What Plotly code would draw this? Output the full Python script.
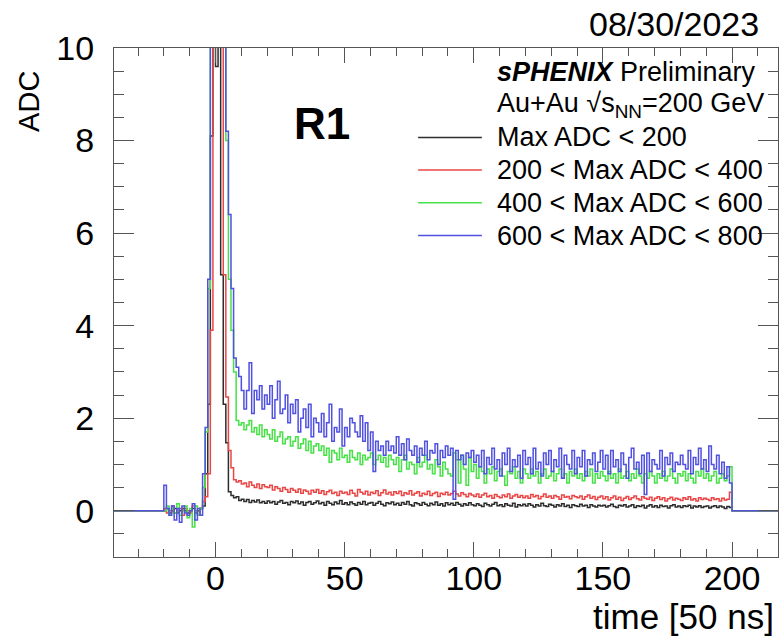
import plotly.graph_objects as go

# bins of 1 time unit, left edges -20 ... 199
t_start = -20

adc_lt200 = [
    0.0, 0.05, -0.05, 0.0, 0.05, -0.05, 0.0, 0.05, 0.0, -0.05,
    0.0, 0.05, -0.05, 0.0, 0.05, 0.1, 0.8, 2.3, 8.1, 14,
    9.6, 12, 5.1, 2.3, 1.47, 0.41, 0.33, 0.28, 0.3, 0.22,
    0.25, 0.2, 0.24, 0.18, 0.22, 0.19, 0.23, 0.17, 0.2, 0.16,
    0.21, 0.17, 0.2, 0.14, 0.19, 0.22, 0.16, 0.18, 0.13, 0.2,
    0.17, 0.21, 0.15, 0.19, 0.12, 0.18, 0.2, 0.14, 0.17, 0.21,
    0.15, 0.18, 0.12, 0.2, 0.16, 0.13, 0.19, 0.15, 0.22, 0.14,
    0.17, 0.13, 0.19, 0.15, 0.12, 0.18, 0.14, 0.2, 0.13, 0.16,
    0.18, 0.12, 0.16, 0.2, 0.14, 0.11, 0.17, 0.15, 0.19, 0.13,
    0.16, 0.12, 0.18, 0.14, 0.2, 0.13, 0.1, 0.17, 0.15, 0.12,
    0.18, 0.14, 0.11, 0.16, 0.13, 0.19, 0.12, 0.15, 0.1, 0.17,
    0.13, 0.16, 0.12, 0.18, 0.14, 0.1, 0.15, 0.12, 0.17, 0.13,
    0.11, 0.15, 0.12, 0.09, 0.16, 0.13, 0.1, 0.14, 0.18, 0.11,
    0.13, 0.09, 0.15, 0.12, 0.1, 0.16, 0.08, 0.13, 0.11, 0.14,
    0.1, 0.15, 0.12, 0.08, 0.13, 0.1, 0.16, 0.11, 0.09, 0.14,
    0.12, 0.08, 0.13, 0.1, 0.15, 0.09, 0.12, 0.07, 0.13, 0.11,
    0.09, 0.14, 0.1, 0.12, 0.07, 0.13, 0.1, 0.08, 0.12, 0.1,
    0.12, 0.08, 0.11, 0.14, 0.09, 0.07, 0.12, 0.1, 0.13, 0.08,
    0.1, 0.13, 0.07, 0.11, 0.09, 0.12, 0.06, 0.1, 0.13, 0.08,
    0.11, 0.07, 0.12, 0.09, 0.1, 0.06, 0.11, 0.13, 0.08, 0.1,
    0.07, 0.11, 0.09, 0.12, 0.06, 0.1, 0.08, 0.11, 0.07, 0.09,
    0.1, 0.06, 0.09, 0.11, 0.07, 0.1, 0.08, 0.05, 0.09, 0.07,
]

adc_200_400 = [
    0.05, -0.05, 0.0, 0.1, -0.05, 0.0, 0.05, -0.1, 0.05, 0.0,
    -0.05, 0.1, 0.0, -0.1, 0.05, 0.2, 0.3, 0.8, 3.9, 16,
    22, 18, 12, 5.1, 2.46, 1.3, 0.93, 0.67, 0.62, 0.65,
    0.58, 0.6, 0.52, 0.62, 0.55, 0.5, 0.58, 0.48, 0.56, 0.52,
    0.5, 0.55, 0.45, 0.52, 0.48, 0.42, 0.5, 0.46, 0.4, 0.48,
    0.44, 0.4, 0.47, 0.38, 0.45, 0.42, 0.36, 0.44, 0.4, 0.46,
    0.38, 0.43, 0.35, 0.41, 0.44, 0.37, 0.4, 0.33, 0.42, 0.38,
    0.4, 0.35, 0.44, 0.38, 0.32, 0.46, 0.4, 0.36, 0.42, 0.34,
    0.4, 0.37, 0.43, 0.33, 0.39, 0.45, 0.36, 0.4, 0.34, 0.41,
    0.37, 0.42, 0.33, 0.39, 0.36, 0.43, 0.34, 0.38, 0.41, 0.32,
    0.38, 0.35, 0.42, 0.33, 0.37, 0.4, 0.31, 0.38, 0.35, 0.4,
    0.34, 0.37, 0.42, 0.36, 0.32, 0.39, 0.35, 0.3, 0.37, 0.34,
    0.31, 0.36, 0.29, 0.34, 0.38, 0.3, 0.33, 0.27, 0.35, 0.31,
    0.28, 0.34, 0.3, 0.36, 0.27, 0.32, 0.35, 0.29, 0.33, 0.28,
    0.32, 0.27, 0.35, 0.3, 0.33, 0.26, 0.31, 0.36, 0.29, 0.32,
    0.27, 0.33, 0.3, 0.25, 0.34, 0.29, 0.31, 0.26, 0.33, 0.3,
    0.28, 0.32, 0.25, 0.3, 0.34, 0.27, 0.31, 0.24, 0.29, 0.32,
    0.26, 0.3, 0.23, 0.28, 0.32, 0.25, 0.29, 0.22, 0.27, 0.31,
    0.24, 0.28, 0.32, 0.26, 0.23, 0.3, 0.27, 0.25, 0.29, 0.22,
    0.27, 0.3, 0.24, 0.28, 0.21, 0.26, 0.29, 0.23, 0.27, 0.25,
    0.22, 0.28, 0.25, 0.3, 0.23, 0.26, 0.21, 0.28, 0.24, 0.27,
    0.25, 0.22, 0.28, 0.24, 0.26, 0.21, 0.27, 0.23, 0.25, 0.4,
]

adc_400_600 = [
    0.0, 0.1, -0.1, 0.05, -0.05, 0.15, -0.1, 0.0, 0.1, -0.15,
    0.05, -0.35, 0.1, -0.1, 0.05, 0.5, 1.7, 4.8, 13, 20,
    24, 20, 16, 11, 8.0, 5.0, 3.9, 3.0, 1.95, 1.85,
    1.9, 1.75, 1.85, 1.95, 1.7, 1.8, 1.65, 1.85, 1.6, 1.75,
    1.65, 1.55, 1.75, 1.5, 1.6, 1.7, 1.45, 1.55, 1.6, 1.4,
    1.5, 1.6, 1.35, 1.45, 1.55, 1.3, 1.5, 1.25, 1.4, 1.45,
    1.3, 1.4, 1.2, 1.35, 1.05, 1.3, 1.25, 1.1, 1.35, 1.15,
    1.2, 1.05, 1.3, 1.15, 1.1, 1.25, 1.0, 1.2, 1.1, 1.15,
    1.25, 1.0, 1.1, 1.2, 1.05, 1.15, 0.95, 1.2, 1.1, 1.0,
    1.15, 0.85, 1.1, 1.2, 0.9, 1.05, 1.0, 0.8, 1.15, 0.95,
    1.05, 1.2, 0.9, 1.0, 0.8, 1.1, 0.95, 0.75, 1.05, 0.9,
    0.8, 0.75, 1.25, 1.1, 0.6, 1.2, 0.9, 0.55, 1.15, 0.85,
    1.0, 0.7, 0.95, 0.85, 0.6, 0.9, 0.8, 0.95, 0.65, 0.85,
    0.9, 0.75, 0.55, 0.85, 0.8, 0.95, 0.7, 0.85, 0.6, 0.9,
    0.8, 0.7, 0.9, 0.75, 0.85, 0.6, 0.8, 0.9, 0.7, 0.75,
    0.85, 0.65, 0.8, 0.9, 0.7, 0.8, 0.6, 0.85, 0.75, 0.9,
    0.7, 0.8, 0.65, 0.85, 0.75, 0.9, 0.6, 0.8, 0.7, 0.85,
    0.75, 0.65, 0.85, 0.7, 0.8, 0.6, 0.9, 0.7, 0.75, 0.85,
    0.65, 0.8, 0.7, 0.9, 0.75, 0.6, 0.8, 0.7, 0.85, 0.75,
    0.6, 0.8, 0.7, 0.85, 0.65, 0.75, 0.9, 0.7, 0.6, 0.8,
    0.75, 0.85, 0.65, 0.8, 0.7, 0.6, 0.85, 0.75, 0.9, 0.7,
    0.8, 0.65, 0.75, 0.85, 0.6, 0.7, 0.8, 0.65, 0.75, 0.95,
]

adc_600_800 = [
    0.55, 0.05, -0.1, 0.1, -0.2, 0.05, -0.25, 0.1, -0.05, -0.1,
    0.0, 0.15, -0.2, 0.05, -0.1, 0.8, 1.8, 5.0, 14, 22,
    25, 22, 17, 12, 8.2, 6.4, 4.8, 3.3, 3.1, 2.9,
    2.6, 2.2, 2.6, 3.2, 2.1, 2.6, 2.4, 2.7, 2.2, 2.5,
    2.3, 2.7, 2.0, 2.4, 2.8, 2.1, 2.2, 2.5, 1.9, 2.3,
    2.1, 2.4, 1.7, 2.0, 2.2, 1.8, 2.3, 1.6, 2.0, 1.9,
    1.7, 2.1, 1.6, 1.9, 2.3, 1.5, 1.8, 1.7, 2.2, 1.4,
    1.8, 1.6, 2.0, 1.9, 1.7, 1.6, 2.05, 1.5, 1.9, 1.3,
    1.7, 0.85, 1.5, 1.3, 1.4, 1.2, 1.5, 1.3, 1.4, 1.25,
    1.6, 1.2, 1.45, 1.1, 1.55, 1.3, 1.2, 1.4, 1.05, 1.35,
    1.2, 1.5, 1.1, 1.3, 1.25, 1.45, 1.0, 1.3, 1.15, 1.4,
    1.2, 1.35, 0.25, 1.3, 1.1, 1.2, 1.0, 1.25, 1.15, 1.3,
    1.05, 1.2, 0.95, 1.3, 0.8, 1.15, 1.0, 1.35, 0.9, 1.1,
    0.75, 1.25, 1.0, 1.35, 0.85, 1.1, 0.95, 1.2, 0.7, 1.3,
    1.0, 1.15, 0.8, 1.35, 0.9, 1.05, 0.75, 1.25, 1.0, 1.3,
    0.85, 1.1, 0.95, 1.35, 0.7, 1.2, 1.0, 0.9, 1.3, 0.8,
    1.15, 0.95, 1.3, 0.75, 1.1, 1.0, 1.25, 0.85, 1.05, 1.3,
    0.9, 1.2, 0.8, 1.3, 0.95, 1.1, 0.85, 1.25, 1.0, 0.7,
    1.15, 1.35, 0.9, 1.05, 0.8, 1.2, 0.35, 1.25, 0.85, 1.1,
    1.0, 0.9, 1.3, 0.75, 1.15, 1.0, 1.25, 0.85, 1.05, 1.0,
    1.2, 1.0, 0.9, 1.3, 0.8, 1.15, 1.0, 1.35, 0.9, 1.1,
    0.85, 1.4, 1.0, 0.9, 1.2, 0.8, 1.05, 0.7, 0.95, 0.6,
]

series_names = ["Max ADC < 200", "200 < Max ADC < 400",
                "400 < Max ADC < 600", "600 < Max ADC < 800"]
series_colors = ["rgb(45,45,45)", "rgb(235,70,70)",
                 "rgb(70,225,70)", "rgb(80,80,225)"]
all_series = [adc_lt200, adc_200_400, adc_400_600, adc_600_800]
legend_headers = ["<b><i>sPHENIX</i></b> Preliminary",
                  "Au+Au \u221As<sub>NN</sub>=200 GeV"]

x_lo, x_hi = -39.3, 217.8
font_main = "Liberation Sans"


def step_xy(vals):
    # histogram drawn ROOT style: empty bins out to the axis edges
    n = len(vals)
    xs = [x_lo] + [t_start + i for i in range(n)] + [t_start + n, x_hi]
    ys = [0] + list(vals) + [0, 0]
    return xs, ys


fig = go.Figure()

for vals, name, col in zip(all_series, series_names, series_colors):
    xs, ys = step_xy(vals)
    fig.add_trace(go.Scatter(x=xs, y=ys, mode="lines", name=name, showlegend=False,
                             line=dict(color=col, width=1.5, shape="hv")))

# ROOT-like legend box: text rows + short line samples (paper coords)
row_top, row_step = 0.953, 0.0643
legend_rows = legend_headers + series_names
for i, txt in enumerate(legend_rows):
    yy = row_top - i * row_step
    fig.add_annotation(text=txt, xref="paper", yref="paper", x=0.574, y=yy,
                       xanchor="left", yanchor="middle", showarrow=False,
                       font=dict(family=font_main, size=27, color="black"))
    if i >= len(legend_headers):
        col = series_colors[i - len(legend_headers)]
        fig.add_shape(type="line", xref="paper", yref="paper",
                      x0=0.458, x1=0.554, y0=yy, y1=yy,
                      line=dict(color=col, width=1.5))

axis_common = dict(showline=True, linecolor="#555", linewidth=1.2, mirror="allticks",
                   ticks="inside", tickcolor="#555", showgrid=False, zeroline=False,
                   automargin=False,
                   tickfont=dict(family=font_main, size=34, color="black"))

fig.update_xaxes(range=[x_lo, x_hi], tickvals=[0, 50, 100, 150, 200], ticklen=15,
                 ticklabelstandoff=-9,
                 minor=dict(ticks="inside", dtick=10, tick0=0, ticklen=8, tickcolor="#555"),
                 **axis_common)
fig.update_yaxes(range=[-1, 10], tickvals=[0, 2, 4, 6, 8, 10], ticklen=20,
                 ticklabelstandoff=12,
                 minor=dict(ticks="inside", dtick=0.5, tick0=0, ticklen=10, tickcolor="#555"),
                 **axis_common)

fig.add_annotation(text="time [50 ns]", xref="paper", yref="paper", x=0.997, y=-0.116,
                   xanchor="right", yanchor="middle", showarrow=False,
                   font=dict(family=font_main, size=35, color="black"))
fig.add_annotation(text="ADC", xref="paper", yref="paper", x=-0.128, y=0.958,
                   xanchor="center", yanchor="top", textangle=-90, showarrow=False,
                   font=dict(family=font_main, size=29, color="black"))
fig.add_annotation(text="08/30/2023", xref="paper", yref="paper", x=0.975, y=1.047,
                   xanchor="right", yanchor="middle", showarrow=False,
                   font=dict(family=font_main, size=34, color="black"))
fig.add_annotation(text="<b>R1</b>", xref="paper", yref="paper", x=0.313, y=0.851,
                   xanchor="center", yanchor="middle", showarrow=False,
                   font=dict(family=font_main, size=44, color="black"))

fig.update_layout(
    width=781, height=641,
    margin=dict(l=114, r=3, t=48, b=84),
    paper_bgcolor="white", plot_bgcolor="white",
    showlegend=False,
)

fig.write_html("out.html", config={"displayModeBar": False},
               post_script="document.body.style.margin='0px';")
